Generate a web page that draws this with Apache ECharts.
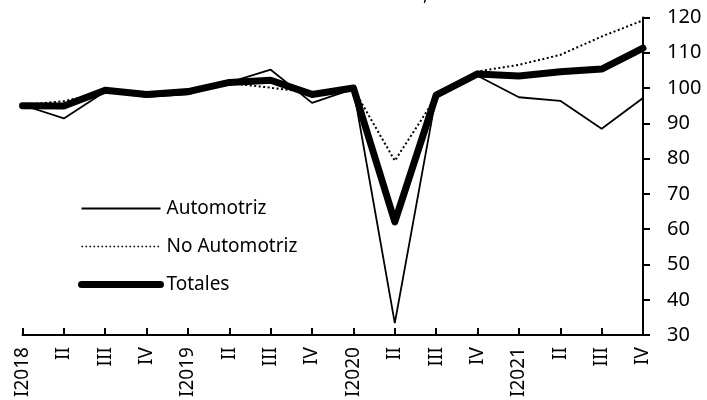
<!DOCTYPE html>
<html>
<head>
<meta charset="utf-8">
<script src="https://cdn.jsdelivr.net/npm/echarts@6/dist/echarts.min.js"></script>
<style>html,body{margin:0;padding:0;background:#fff}#c{width:707px;height:400px}</style>
</head>
<body>
<div id="c"></div>
<script>
var categories = ["I2018","II2018","III2018","IV2018","I2019","II2019","III2019","IV2019","I2020","II2020","III2020","IV2020","I2021","II2021","III2021","IV2021"];
var tickLabels = ["I2018","II","III","IV","I2019","II","III","IV","I2020","II","III","IV","I2021","II","III","IV"];
var automotriz = [95.2, 91.4, 99.0, 97.5, 98.2, 101.6, 105.2, 95.8, 99.8, 33.4, 97.8, 103.5, 97.4, 96.4, 88.5, 97.2];
var noAutomotriz = [95.2, 96.3, 98.8, 98.0, 99.2, 101.4, 100.1, 98.7, 99.8, 79.4, 97.5, 104.7, 106.6, 109.4, 114.6, 119.2];
var totales = [95.0, 94.9, 99.4, 98.2, 99.0, 101.6, 102.2, 98.2, 100.0, 62.1, 98.0, 104.0, 103.4, 104.6, 105.4, 111.3];
var titleText = ",";

var FONT = "Noto Sans";
var chart = echarts.init(document.getElementById('c'), null, {renderer: 'canvas'});
chart.setOption({
  animation: false,
  backgroundColor: '#fff',
  title: {text: titleText, left: 423, top: -13, padding: 0,
          textStyle: {fontFamily: FONT, fontSize: 18, fontWeight: 'normal', color: '#000'}},
  grid: {left: 22.5, right: 64, top: 17.5, bottom: 63, containLabel: false},
  legend: {
    orient: 'vertical', left: 78, top: 199, padding: 0,
    itemWidth: 79, itemHeight: 14, itemGap: 19,
    itemStyle: {opacity: 0},
    textStyle: {fontFamily: FONT, fontSize: 19, color: '#000', padding: [0, 0, 0, 1]},
    data: [
      {name: 'Automotriz', lineStyle: {width: 1.8, type: 'solid', color: '#000'}},
      {name: 'No Automotriz', lineStyle: {width: 1.6, type: [1.6, 2.4], color: '#000'}},
      {name: 'Totales', lineStyle: {width: 7, cap: 'round', color: '#000'}}
    ]
  },
  xAxis: {
    type: 'category', data: categories, boundaryGap: false,
    axisLine: {lineStyle: {color: '#000', width: 2}},
    axisTick: {inside: true, length: 7, lineStyle: {color: '#000', width: 2}, interval: 0},
    axisLabel: {
      rotate: 90, interval: 0, margin: 12, color: '#000', fontFamily: FONT, fontSize: 19,
      formatter: function (v, i) { return tickLabels[i]; }
    },
    splitLine: {show: false}
  },
  yAxis: {
    type: 'value', position: 'right', min: 30, max: 120, interval: 10,
    axisLine: {show: true, lineStyle: {color: '#000', width: 2}},
    axisTick: {show: true, length: 7, lineStyle: {color: '#000', width: 2}},
    axisLabel: {margin: 24, color: '#000', fontFamily: FONT, fontSize: 20},
    splitLine: {show: false}
  },
  series: [
    {name: 'Automotriz', type: 'line', data: automotriz, symbol: 'none', showSymbol: false, z: 3,
     lineStyle: {color: '#000', width: 1.8}, itemStyle: {color: '#000'}},
    {name: 'No Automotriz', type: 'line', data: noAutomotriz, symbol: 'none', showSymbol: false, z: 2,
     lineStyle: {color: '#000', width: 2, type: [2, 2.5]}, itemStyle: {color: '#000'}},
    {name: 'Totales', type: 'line', data: totales, symbol: 'none', showSymbol: false, z: 4,
     lineStyle: {color: '#000', width: 7, cap: 'round', join: 'round'}, itemStyle: {color: '#000'}}
  ]
});
</script>
</body>
</html>
